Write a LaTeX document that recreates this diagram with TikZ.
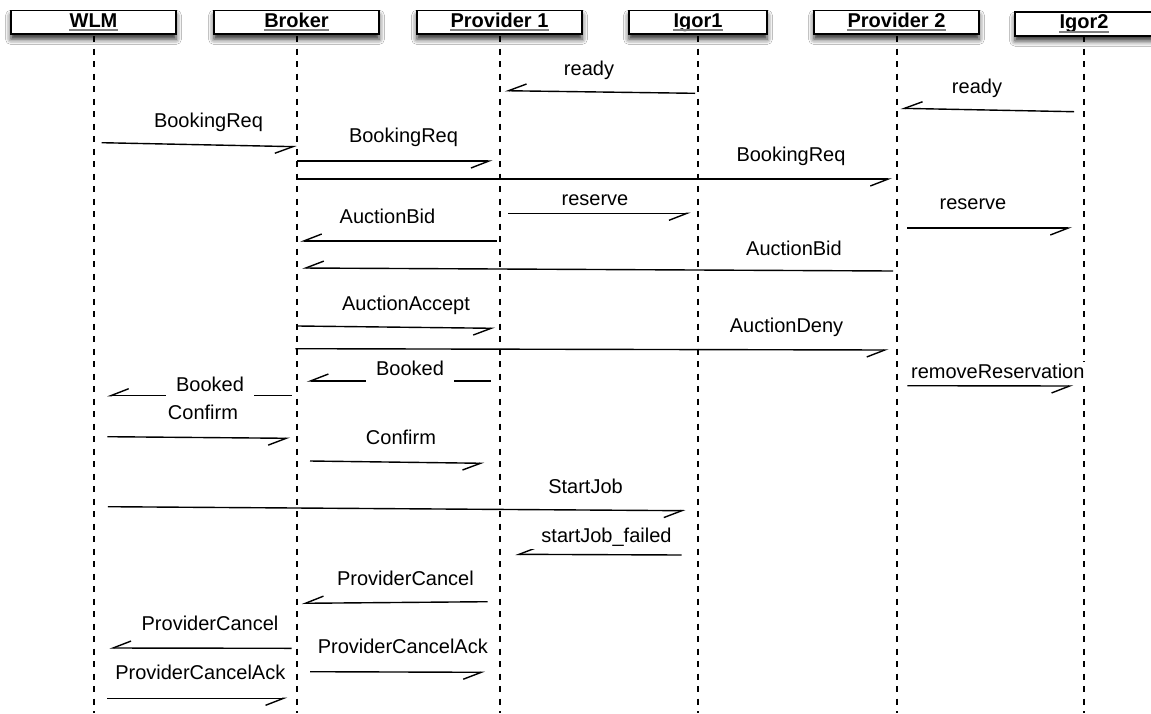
\documentclass[tikz,border=0pt]{standalone}
\usepackage{fontspec}
\setmainfont{Liberation Sans}
\usetikzlibrary{arrows.meta,shadows.blur}
\begin{document}
\begin{tikzpicture}[x=1pt,y=-1pt,
  font=\fontsize{20}{23}\selectfont,
  head/.style={draw, line width=1.8pt, fill=white, minimum height=23.5pt, inner sep=0pt,
    blur shadow={shadow xshift=0pt, shadow yshift=-5pt, shadow blur radius=5.5pt, shadow opacity=85}},
  wide/.style={head, minimum width=165pt},
  narrow/.style={head, minimum width=138pt},
  headtext/.style={font=\fontsize{20}{23}\selectfont\bfseries, inner sep=0pt, anchor=base},
  uline/.style={line width=1.8pt, draw=black!50},
  life/.style={line width=1.6pt, dash pattern=on 6pt off 6.5pt},
  msg/.style={line width=1.4pt, -{Straight Barb[harpoon,swap,length=18pt,width=14pt]}},
  lbl/.style={anchor=base, fill=white, inner xsep=10pt, inner ysep=2pt},
  gaplbl/.style={lbl, inner ysep=8pt}]
\useasboundingbox (0,0) rectangle (1151,713);
\fill[white] (0,0) rectangle (1151,713);

% participant boxes
\node[wide]   (wlm)    at (93.5,22.3) {};
\node[wide]   (broker) at (296.5,22.3) {};
\node[wide]   (prov1)  at (499.5,22.3) {};
\node[narrow] (igor1)  at (698,22.3) {};
\node[wide]   (prov2)  at (896.5,22.3) {};
\node[narrow] (igor2)  at (1084,24) {};

% lifelines
\foreach \p/\x in {wlm/94, broker/297, prov1/500, igor1/698, prov2/897, igor2/1084}
  \draw[life] (\x,36) -- (\x,713);

% participant names, underlined
\foreach \p/\t/\x/\b in {wlm/WLM/93.5/27, broker/Broker/296.5/27, prov1/Provider 1/499.5/27,
                         igor1/Igor1/698/27, prov2/Provider 2/896.5/27, igor2/Igor2/1084/28.7}{
  \node[headtext] (t\p) at (\x,\b) {\t};
  \draw[uline] ([yshift=-3.2pt]t\p.base west) -- ([yshift=-3.2pt]t\p.base east);
}

% messages
\draw[msg] (695,93.3) -- (504.7,90.7);
\draw[msg] (1074,111.7) -- (900.7,108.3);
\draw[msg] (101.7,142.7) -- (296.7,146.7);
\draw[msg] (297.3,161) -- (492.7,161);
\draw[msg] (297.3,179) -- (892,179);
\draw[msg] (508.3,213.3) -- (690.7,213.3);
\draw[msg] (907,228) -- (1072,228);
\draw[msg] (496.7,241) -- (300,241);
\draw[msg] (893,271) -- (302,268);
\draw[msg] (298,326) -- (495,328.3);
\draw[msg] (295.4,348.7) -- (888.5,350);
\draw[msg] (490.7,381) -- (306.7,381);
\draw[msg] (291.7,395.7) -- (107,395.7);
\draw[msg] (907.3,385.7) -- (1073.3,386);
\draw[msg] (107.3,436.7) -- (290,438.3);
\draw[msg] (310,461) -- (484.3,463.3);
\draw[msg] (107.9,506.7) -- (685.6,510.7);
\draw[msg] (681.6,555) -- (515.4,554.3);
\draw[msg] (487.7,601.7) -- (301.8,603.3);
\draw[msg] (291.7,648.3) -- (109.3,648);
\draw[msg] (310,671.7) -- (485,672.3);
\draw[msg] (107.3,698.3) -- (287.3,698.3);

% message labels
\node[lbl] (m1)  at (589,75.3)    {ready};
\node[lbl] (m2)  at (977,93.7)    {ready};
\node[lbl] (m3)  at (208.5,127.7) {BookingReq};
\node[lbl] (m4)  at (403.5,142)   {BookingReq};
\node[lbl] (m5)  at (791,161)     {BookingReq};
\node[lbl] (m6)  at (595,205)     {reserve};
\node[lbl] (m7)  at (973,209.5)   {reserve};
\node[lbl] (m8)  at (387.5,223.7) {AuctionBid};
\node[lbl] (m9)  at (794,255)     {AuctionBid};
\node[lbl] (m10) at (406,310.3)   {AuctionAccept};
\node[lbl] (m11) at (786.5,332)   {AuctionDeny};
\node[gaplbl] (m12) at (410,375)  {Booked};
\node[gaplbl] (m13) at (210,391.3) {Booked};
\node[lbl] (m14) at (997.8,378.7) {removeReservation};
\node[lbl] (m15) at (203,419.3)   {Confirm};
\node[lbl] (m16) at (401,444.3)   {Confirm};
\node[lbl] (m17) at (585.5,493.7) {StartJob};
\node[lbl] (m18) at (606.5,542.7) {startJob\_failed};
\node[lbl] (m19) at (405.4,585.3) {ProviderCancel};
\node[lbl] (m20) at (210,630.3)   {ProviderCancel};
\node[lbl] (m21) at (402.8,653.7) {ProviderCancelAck};
\node[lbl] (m22) at (200.3,679.7) {ProviderCancelAck};
\end{tikzpicture}
\end{document}
